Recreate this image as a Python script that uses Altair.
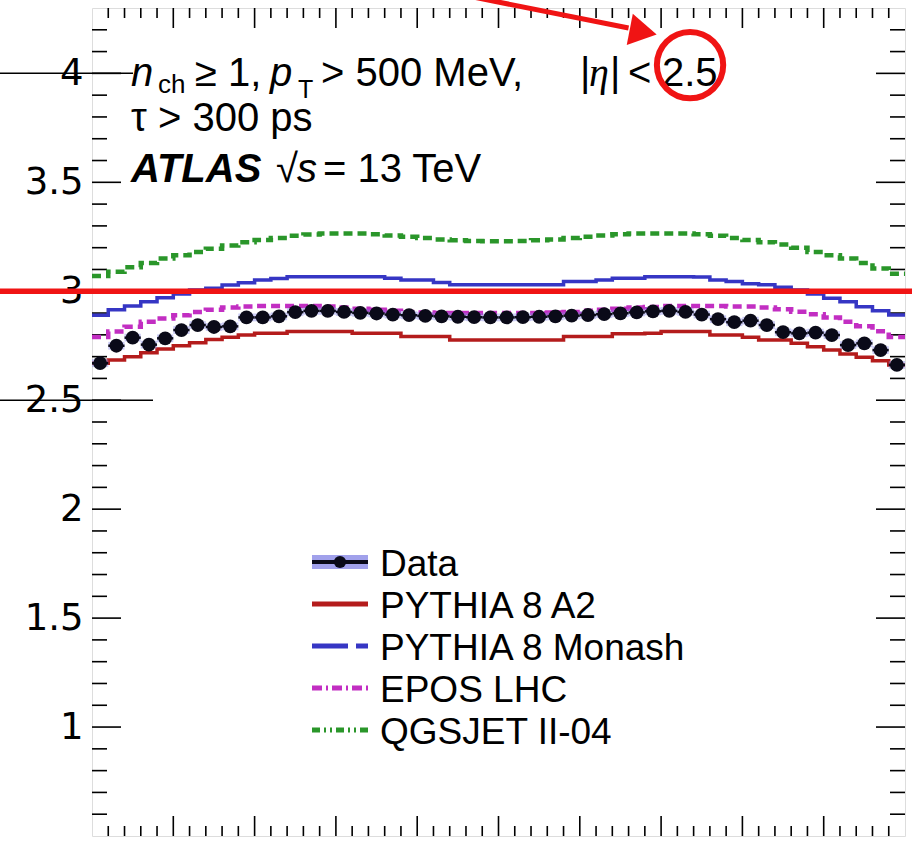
import altair as alt
import pandas as pd

# ---------------- data ----------------
eta_edges = [round(-2.5 + 0.1 * i, 2) for i in range(51)]

data_vals = [2.670, 2.750, 2.787, 2.755, 2.784, 2.822, 2.845, 2.836, 2.839, 2.880,
             2.880, 2.885, 2.904, 2.910, 2.910, 2.905, 2.901, 2.898, 2.893, 2.890,
             2.887, 2.885, 2.883, 2.881, 2.880, 2.880, 2.881, 2.883, 2.885, 2.888,
             2.891, 2.895, 2.899, 2.903, 2.908, 2.910, 2.905, 2.893, 2.872, 2.858,
             2.865, 2.845, 2.812, 2.807, 2.810, 2.799, 2.753, 2.761, 2.730, 2.662]

a2_vals = [2.670, 2.685, 2.700, 2.718, 2.735, 2.750, 2.764, 2.779, 2.789, 2.799,
           2.807, 2.807, 2.815, 2.815, 2.815, 2.815, 2.807, 2.807, 2.807, 2.792,
           2.792, 2.792, 2.776, 2.776, 2.776, 2.776, 2.776, 2.776, 2.776, 2.792,
           2.792, 2.792, 2.805, 2.805, 2.807, 2.815, 2.815, 2.815, 2.799, 2.799,
           2.789, 2.776, 2.776, 2.761, 2.745, 2.730, 2.712, 2.697, 2.681, 2.662]

monash_vals = [2.890, 2.915, 2.932, 2.952, 2.970, 2.987, 3.006, 3.014, 3.029, 3.039,
               3.052, 3.059, 3.067, 3.067, 3.067, 3.067, 3.067, 3.067, 3.060, 3.052,
               3.052, 3.040, 3.030, 3.030, 3.030, 3.030, 3.030, 3.030, 3.030, 3.045,
               3.045, 3.052, 3.060, 3.060, 3.067, 3.067, 3.067, 3.066, 3.052, 3.045,
               3.035, 3.030, 3.018, 3.006, 2.987, 2.968, 2.952, 2.929, 2.910, 2.891]

epos_vals = [2.790, 2.815, 2.837, 2.860, 2.875, 2.890, 2.905, 2.915, 2.925, 2.930,
             2.932, 2.932, 2.932, 2.932, 2.930, 2.925, 2.920, 2.915, 2.910, 2.905,
             2.902, 2.900, 2.900, 2.900, 2.900, 2.900, 2.900, 2.900, 2.902, 2.905,
             2.910, 2.915, 2.920, 2.925, 2.928, 2.932, 2.932, 2.932, 2.932, 2.930,
             2.930, 2.925, 2.917, 2.906, 2.894, 2.880, 2.860, 2.840, 2.817, 2.790]

qgs_vals = [3.070, 3.090, 3.110, 3.130, 3.150, 3.165, 3.180, 3.195, 3.210, 3.225,
            3.235, 3.245, 3.255, 3.260, 3.265, 3.265, 3.265, 3.262, 3.256, 3.250,
            3.244, 3.238, 3.234, 3.231, 3.230, 3.230, 3.231, 3.234, 3.238, 3.244,
            3.250, 3.256, 3.262, 3.265, 3.265, 3.265, 3.265, 3.262, 3.255, 3.245,
            3.235, 3.225, 3.215, 3.200, 3.180, 3.165, 3.150, 3.130, 3.105, 3.080]

y_labels = [1, 1.5, 2, 2.5, 3, 3.5, 4]
legend_names = ["Data", "PYTHIA 8 A2", "PYTHIA 8 Monash", "EPOS LHC", "QGSJET II-04"]

# ---------------- geometry / style ----------------
W, H = 813, 828
PL, PT = 92, 8
FONT = "Liberation Sans"
FS = 37      # legend
FA = 40      # annotation text
C_A2 = "#b41c1c"
C_MON = "#3636c4"
C_EPOS = "#c22ec2"
C_QGS = "#2a962a"
C_RED = "#f01414"
C_DATA = "#0a0a18"

xs = alt.Scale(domain=[-2.5, 2.5], nice=False, zero=False)
ys = alt.Scale(domain=[0.5, 4.3], nice=False, zero=False)
yaxis = alt.Axis(values=y_labels, format=".1~f", tickSize=0, domain=False, grid=False,
                 labelFontSize=37, labelFont="DejaVu Sans", labelColor="black",
                 labelPadding=9, title=None)


def X(f):
    return alt.X(f, scale=xs, axis=None)


def Y(f):
    return alt.Y(f, scale=ys, axis=yaxis)


def step_df(vals):
    return pd.DataFrame({"eta": eta_edges, "v": list(vals) + [vals[-1]]})


def model(vals, color, dash=None, width=4):
    kw = dict(color=color, strokeWidth=width, interpolate="step-after")
    if dash:
        kw["strokeDash"] = dash
    return alt.Chart(step_df(vals)).mark_line(**kw).encode(x=X("eta:Q"), y=Y("v:Q"))


layers = []

# axis ticks (ROOT style, inside, on all four sides)
ytick = [round(0.5 + 0.1 * i, 2) for i in range(1, 38)]
ydf = pd.DataFrame({"v": ytick, "major": [abs(v * 2 - round(v * 2)) < 1e-6 for v in ytick]})
xtick = [round(-2.4 + 0.1 * i, 2) for i in range(49)]
xdf = pd.DataFrame({"e": xtick, "major": [abs(e * 2 - round(e * 2)) < 1e-6 for e in xtick]})

for major, ln in [(True, 29), (False, 15)]:
    d = ydf[ydf.major == major]
    layers.append(alt.Chart(d).mark_rule(color="black", strokeWidth=1.6).encode(
        x=alt.value(0), x2=alt.value(ln), y=Y("v:Q")))
    layers.append(alt.Chart(d).mark_rule(color="black", strokeWidth=1.6).encode(
        x=alt.value(W - ln), x2=alt.value(W), y=Y("v:Q")))
for major, ln in [(True, 20), (False, 10)]:
    d = xdf[xdf.major == major]
    layers.append(alt.Chart(d).mark_rule(color="black", strokeWidth=1.6).encode(
        x=X("e:Q"), y=alt.value(0), y2=alt.value(ln)))
    layers.append(alt.Chart(d).mark_rule(color="black", strokeWidth=1.6).encode(
        x=X("e:Q"), y=alt.value(H - ln), y2=alt.value(H)))

# models
layers.append(model(qgs_vals, C_QGS, dash=[9, 5], width=4.5))
layers.append(model(monash_vals, C_MON, width=3.5))
layers.append(model(epos_vals, C_EPOS, dash=[9, 5], width=4.5))
layers.append(model(a2_vals, C_A2, width=3.5))

# data
ddf = pd.DataFrame({"lo": eta_edges[:-1], "hi": eta_edges[1:], "v": data_vals})
ddf["c"] = (ddf.lo + ddf.hi) / 2
ddf["elo"] = ddf.v - 0.018
ddf["ehi"] = ddf.v + 0.018
layers.append(alt.Chart(ddf).mark_rect(color="#8a8ae6", opacity=0.45).encode(
    x=X("lo:Q"), x2="hi:Q", y=Y("elo:Q"), y2="ehi:Q"))
layers.append(alt.Chart(ddf).mark_rule(color=C_DATA, strokeWidth=2.5).encode(
    x=X("lo:Q"), x2="hi:Q", y=Y("v:Q")))
layers.append(alt.Chart(ddf).mark_circle(color=C_DATA, opacity=1, size=190).encode(
    x=X("c:Q"), y=Y("v:Q")))


# ---------------- text annotations ----------------
def txt(s, x, y, size=FA, style="normal", weight="normal", font=FONT):
    return alt.Chart(pd.DataFrame({"t": [s]})).mark_text(
        align="left", baseline="alphabetic", font=font, fontSize=size,
        fontStyle=style, fontWeight=weight, color="black").encode(
        text="t:N", x=alt.value(x - PL), y=alt.value(y - PT))


B1, B2, B3 = 86, 131, 182
layers += [
    txt("n", 131, B1, style="italic"),
    txt("ch", 158, B1 + 7, size=26),
    txt("≥ 1,", 195, B1),
    txt("p", 270, B1, style="italic"),
    txt("T", 298, B1 + 12, size=25),
    txt("> 500 MeV,", 321, B1),
    txt("|", 580, B1),
    txt("η", 589, B1, style="italic", font="Liberation Serif"),
    txt("|", 610, B1),
    txt("<", 628, B1),
    txt("2.5", 662, B1),
    txt("τ > 300 ps", 131, B2),
    txt("ATLAS", 131, B3, style="italic", weight="bold"),
    txt("√", 276, B3),
    txt("s", 297, B3, style="italic"),
    txt("= 13 TeV", 323, B3),
]

# ---------------- legend ----------------
LX0, LX1, LT = 312, 368, 380
rows = [562, 604, 646, 688, 730]
for name, yc in zip(legend_names, rows):
    layers.append(txt(name, LT, yc + 14, size=FS))

one = pd.DataFrame({"a": [0]})


def seg(x0, x1, yc, color, width, dash=None):
    kw = dict(color=color, strokeWidth=width)
    if dash:
        kw["strokeDash"] = dash
    return alt.Chart(one).mark_rule(**kw).encode(
        x=alt.value(x0 - PL), x2=alt.value(x1 - PL), y=alt.value(yc - PT))


layers.append(alt.Chart(one).mark_rect(color="#8a8ae6", opacity=0.8).encode(
    x=alt.value(LX0 - PL), x2=alt.value(LX1 - PL),
    y=alt.value(rows[0] - 7 - PT), y2=alt.value(rows[0] + 7 - PT)))
layers.append(seg(LX0, LX1, rows[0], C_DATA, 4))
layers.append(alt.Chart(one).mark_circle(color=C_DATA, opacity=1, size=150).encode(
    x=alt.value((LX0 + LX1) / 2 - PL), y=alt.value(rows[0] - PT)))
layers.append(seg(LX0, LX1, rows[1], C_A2, 5))
layers.append(seg(LX0, LX1, rows[2], C_MON, 5, dash=[36, 8, 12, 8]))
layers.append(seg(LX0, LX1, rows[3], C_EPOS, 5, dash=[10, 4, 2, 4]))
layers.append(seg(LX0, LX1, rows[4], C_QGS, 5, dash=[8, 4, 2, 4, 2, 4]))

# ---------------- overlay annotations (lines, arrow, circle) ----------------
layers.append(alt.Chart(one).mark_rule(color="black", strokeWidth=1.5).encode(
    x=alt.value(-PL), x2=alt.value(133 - PL), y=Y("a4:Q")).transform_calculate(a4="4"))
layers.append(alt.Chart(one).mark_rule(color="black", strokeWidth=1.5).encode(
    x=alt.value(-PL), x2=alt.value(153 - PL), y=Y("a25:Q")).transform_calculate(a25="2.5"))
layers.append(alt.Chart(one).mark_rule(color=C_RED, strokeWidth=5.5).encode(
    x=alt.value(-PL), x2=alt.value(W + 7), y=Y("a3:Q")).transform_calculate(a3="3"))

# arrow shaft + head, circle around "2.5"
arrow = pd.DataFrame({"e0": [-0.22], "v0": [4.36], "e1": [0.80], "v1": [4.208]})
layers.append(alt.Chart(arrow).mark_rule(color=C_RED, strokeWidth=5).encode(
    x=X("e0:Q"), y=Y("v0:Q"), x2="e1:Q", y2="v1:Q"))
head = pd.DataFrame({"e": [0.89], "v": [4.19]})
layers.append(alt.Chart(head).mark_point(shape="triangle-right", filled=True, color=C_RED,
                                         opacity=1, size=1000, angle=11).encode(
    x=X("e:Q"), y=Y("v:Q")))
circ = pd.DataFrame({"e": [1.178], "v": [4.038]})
layers.append(alt.Chart(circ).mark_point(shape="circle", filled=False, color=C_RED,
                                         opacity=1, size=4400, strokeWidth=6).encode(
    x=X("e:Q"), y=Y("v:Q")))

chart = alt.layer(*layers).properties(
    width=W, height=H,
    autosize=alt.AutoSizeParams(type="none"),
    padding={"left": PL, "top": PT, "right": 7, "bottom": 12},
).configure_view(stroke="black", strokeWidth=2).configure(background="white")

chart.save("out.html", embed_options={"renderer": "svg", "actions": False})
